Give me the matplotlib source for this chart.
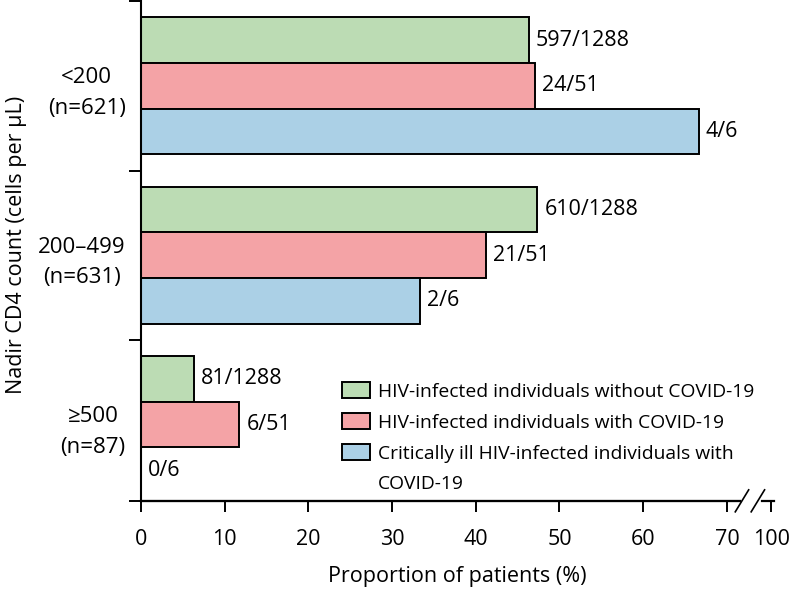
import matplotlib
matplotlib.use('Agg')
import matplotlib.pyplot as plt
import matplotlib.transforms as mtransforms
from matplotlib.patches import Patch
import numpy as np

plt.rcParams['font.family'] = ['Open Sans', 'DejaVu Sans']
plt.rcParams['font.size'] = 15.5

# data
groups = ['<200\n(n=621)', '200\u2013499\n(n=631)', '\u2265500\n(n=87)']
series = ['HIV-infected individuals without COVID-19',
          'HIV-infected individuals with COVID-19',
          'Critically ill HIV-infected individuals with COVID-19']
numer = [[597, 610, 81], [24, 21, 6], [4, 2, 0]]
denom = [1288, 51, 6]
colors = ['#bcdcb4', '#f4a3a6', '#abd0e6']

x_ticks = [0, 10, 20, 30, 40, 50, 60, 70]
x_100_pos = 75.3   # where "100" sits after the axis break

fig = plt.figure(figsize=(7.92, 5.92), dpi=100)
ax = fig.add_axes([0.178, 0.154, 0.799, 0.844])

y = np.arange(len(groups))
h = 0.27
for i in range(3):
    vals = np.array(numer[i]) / denom[i] * 100
    ypos = y + (i - 1) * h
    ax.barh(ypos, vals, height=h, color=colors[i], edgecolor='black', linewidth=1.4)
    for yy, v, n in zip(ypos, vals, numer[i]):
        ax.annotate('%d/%d' % (n, denom[i]), (v, yy), xytext=(5, 0),
                    textcoords='offset points', va='center', ha='left')

ybottom = 2.45
ax.set_ylim(ybottom, -0.5)
ax.set_xlim(0, 75.6)

# y axis: boundary ticks plus centred group labels
ax.set_yticks([-0.5, 0.5, 1.5, ybottom])
ax.set_yticklabels([])
ax.set_yticks(y, minor=True)
ax.set_yticklabels(groups, minor=True, ha='right', multialignment='center',
                   fontsize=16, linespacing=1.6)
ax.tick_params(axis='y', which='minor', length=0, pad=11)
ax.tick_params(axis='y', which='major', length=9, width=1.4, direction='out')
ax.set_ylabel('Nadir CD4 count (cells per \u03bcL)')
ax.yaxis.set_label_coords(-0.18, 0.513)

# x axis with break between 70 and 100
ax.set_xticks(x_ticks + [x_100_pos])
ax.set_xticklabels([str(t) for t in x_ticks] + ['100'])
ax.tick_params(axis='x', length=8, width=1.4, direction='out', pad=12)
ax.set_xlabel('Proportion of patients (%)', labelpad=12)

for s in ['top', 'right']:
    ax.spines[s].set_visible(False)
ax.spines['left'].set_linewidth(1.5)
ax.spines['bottom'].set_linewidth(1.5)
ax.spines['bottom'].set_bounds(0, 71.6)

trans = mtransforms.blended_transform_factory(ax.transData, ax.transAxes)
ax.plot([0, 71.6], [0, 0], color='black', lw=1.6, transform=trans, clip_on=False, zorder=10)
ax.plot([74.2, 75.6], [0, 0], color='black', lw=1.6, transform=trans, clip_on=False, zorder=10)
d = 0.022
ax.plot([71.0, 72.6], [-d, d], color='black', lw=1.2, transform=trans, clip_on=False)
ax.plot([72.9, 74.5], [-d, d], color='black', lw=1.2, transform=trans, clip_on=False)

# legend: last label wraps onto a second row with no swatch
handles = [Patch(facecolor=c, edgecolor='black', linewidth=1.4) for c in colors]
handles.append(Patch(facecolor='none', edgecolor='none'))
last = series[2].rsplit(' ', 1)
labels = series[:2] + last
ax.legend(handles, labels, loc='upper left', bbox_to_anchor=(0.3175, 0.238),
          frameon=False, fontsize=13.9, handlelength=1.46, handleheight=0.94,
          handletextpad=0.42, labelspacing=0.62, borderaxespad=0, borderpad=0)

fig.savefig('out.png', dpi=100)
